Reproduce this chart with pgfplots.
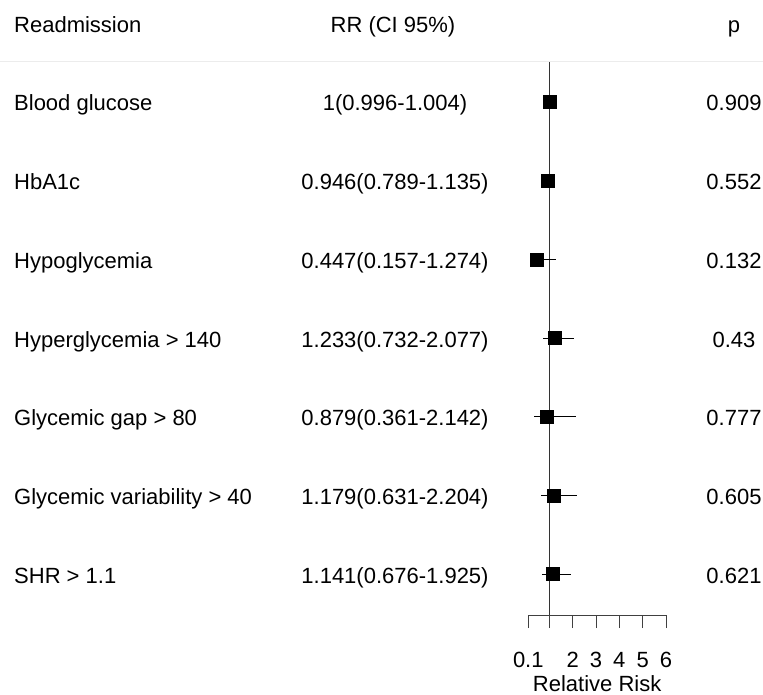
\documentclass[border=0pt]{standalone}
\usepackage{pgfplots}
\usepackage{pgfplotstable}
\pgfplotsset{compat=1.18}
\usepackage{fontspec}
\setmainfont{Liberation Sans}
\pgfplotstableread{
row rr lo hi
7 1.000 0.996 1.004
6 0.946 0.789 1.135
5 0.447 0.157 1.274
4 1.233 0.732 2.077
3 0.879 0.361 2.142
2 1.179 0.631 2.204
1 1.141 0.676 1.925
}\forest
\begin{document}
\begin{tikzpicture}[font=\fontsize{22}{26}\selectfont]
\path[use as bounding box] (0pt,0pt) rectangle (763pt,-695pt);
\draw[line width=1pt, gray!15] (0pt,-62pt) -- (763pt,-62pt);
\begin{axis}[
  at={(528.3pt,-615pt)}, anchor=south west,
  scale only axis, width=137.7pt, height=553pt,
  xmin=0.1, xmax=6, ymin=0.479, ymax=7.508,
  axis y line=none, axis x line=bottom,
  x axis line style={-, line width=0.8pt, black!75},
  xtick={0.1,1,2,3,4,5,6},
  xticklabels={0.1,,2,3,4,5,6},
  tick align=outside, major tick length=13pt,
  tick style={line width=0.8pt, black!75},
  xticklabel style={font=\fontsize{22}{26}\selectfont, inner sep=0pt, yshift=-24pt},
  xlabel={Relative Risk},
  xlabel style={font=\fontsize{22}{26}\selectfont, inner sep=0pt, yshift=-8pt},
  clip=false,
]
\addplot[gray!40!black, line width=0.8pt, forget plot] coordinates {(1,0.479) (1,7.508)};
\addplot[only marks, mark=square*, mark size=6.5pt, black,
  error bars/.cd, x dir=both, x explicit, error mark=none,
  error bar style={line width=0.8pt, black}]
  table[x=rr, y=row,
        x error plus expr=\thisrow{hi}-\thisrow{rr},
        x error minus expr=\thisrow{rr}-\thisrow{lo}] {\forest};
\end{axis}
% header
\node[anchor=base west, inner sep=0pt] at (14pt,-33pt) {Readmission};
\node[anchor=base, inner sep=0pt] at (393pt,-33pt) {RR (CI 95\%)};
\node[anchor=base, inner sep=0pt] at (734pt,-33pt) {p};
% rows
\foreach \y/\lab/\rr/\p in {
  111/Blood glucose/1(0.996-1.004)/0.909,
  189.7/HbA1c/0.946(0.789-1.135)/0.552,
  268.3/Hypoglycemia/0.447(0.157-1.274)/0.132,
  347/Hyperglycemia > 140/1.233(0.732-2.077)/0.43,
  425.7/Glycemic gap > 80/0.879(0.361-2.142)/0.777,
  504.3/Glycemic variability > 40/1.179(0.631-2.204)/0.605,
  583/SHR > 1.1/1.141(0.676-1.925)/0.621}{
  \node[anchor=base west, inner sep=0pt] at (14pt,-\y pt) {\lab};
  \node[anchor=base, inner sep=0pt] at (395pt,-\y pt) {\rr};
  \node[anchor=base, inner sep=0pt] at (734pt,-\y pt) {\p};
}
\end{tikzpicture}
\end{document}
